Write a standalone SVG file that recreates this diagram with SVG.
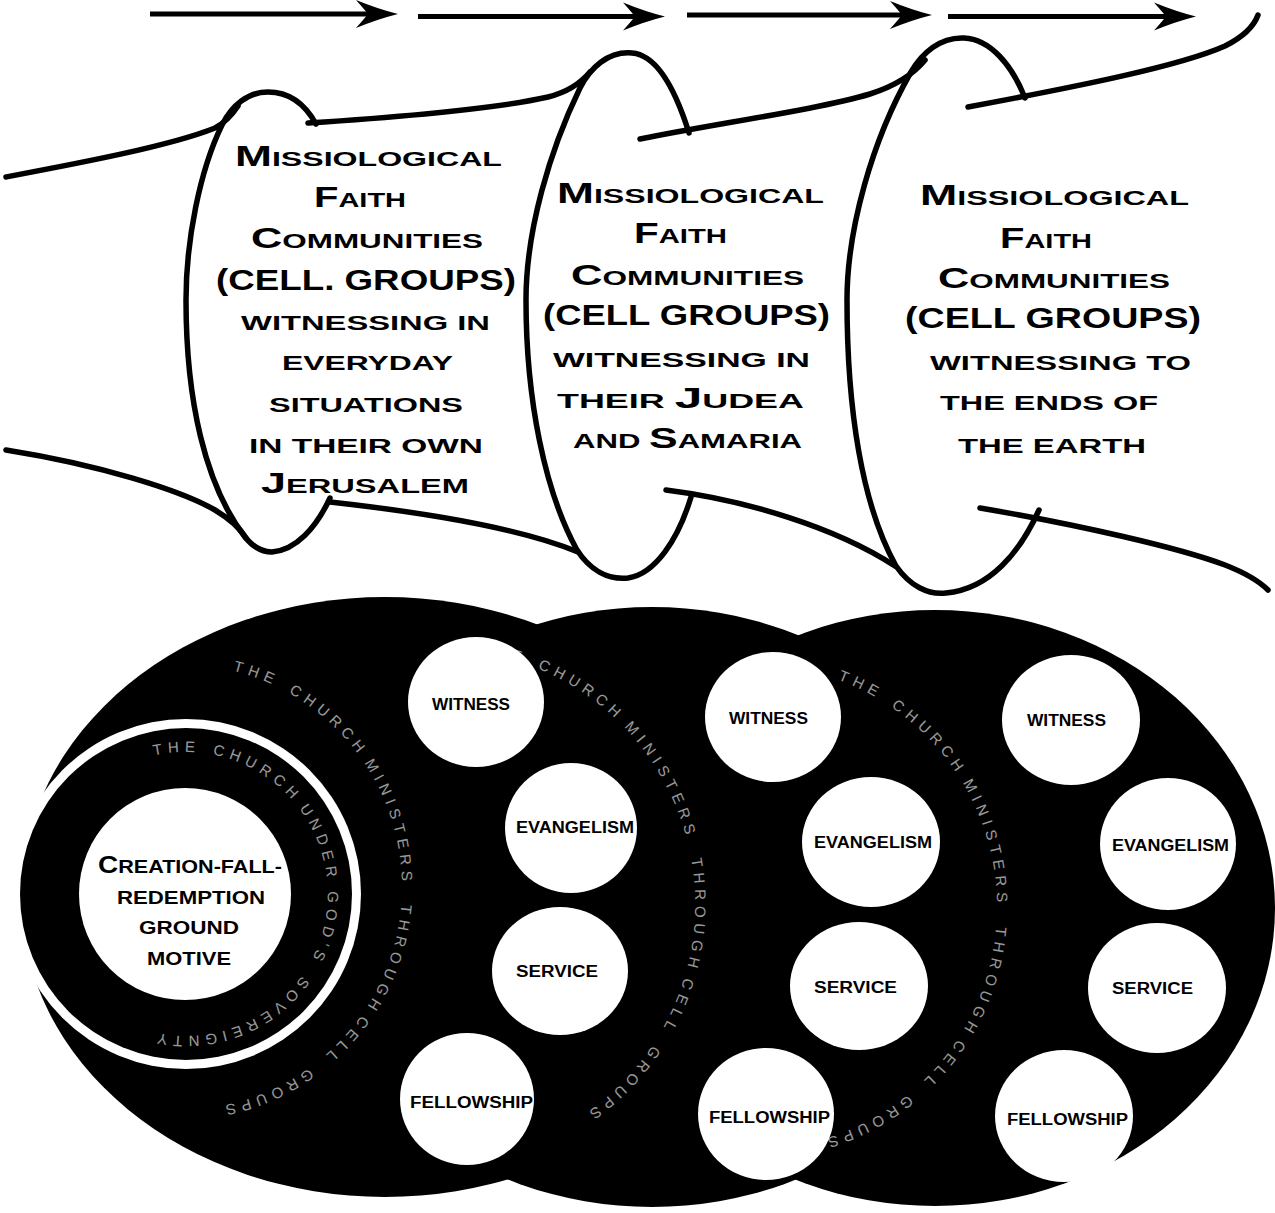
<svg xmlns="http://www.w3.org/2000/svg" width="1275" height="1213" viewBox="0 0 1275 1213">
  <defs>
    <marker id="head" markerUnits="userSpaceOnUse" markerWidth="52" markerHeight="34" viewBox="-22 -17 52 34" refX="0" refY="0" orient="auto">
      <path d="M26,0 Q6,-5 -16,-14 Q-8,-5 -4,0 Q-8,5 -16,14 Q6,5 26,0 Z" fill="#000"/>
    </marker>
    <path id="arc-c1" d="M232.9,670.6 A223,223 0 0 1 140.3,1106.6"/>
    <path id="arc-inner" d="M154,755.6 A142,142 0 1 1 137.4,1027.5"/>
    <path id="arc-c2" d="M479.9,652.1 A255,255 0 0 1 527.2,1143.7"/>
    <path id="arc-c3" d="M837.8,679.6 A242,242 0 0 1 755,1149"/>
  </defs>
  <style>
    .band { fill: none; stroke: #000; stroke-width: 5.5; stroke-linecap: round; stroke-linejoin: round; }
    .arrow { fill: none; stroke: #000; stroke-width: 5; marker-end: url(#head); }
    .cap { font-family: "Liberation Sans", Arial, sans-serif; font-weight: bold; fill: #000; }
    .big { font-size: 29px; }
    .sm { font-size: 21px; }
    .disc { fill: #000; }
    .hole { fill: #fff; }
    .lbl { font-family: "Liberation Sans", Arial, sans-serif; font-weight: bold; font-size: 16px; fill: #000; }
    .mot { font-family: "Liberation Sans", Arial, sans-serif; font-weight: bold; font-size: 18.5px; fill: #000; }
    .arcText { font-family: "Liberation Sans", Arial, sans-serif; font-size: 15px; letter-spacing: 5.5px; fill: #fff; opacity: 0.6; }
  </style>
  <rect width="1275" height="1213" fill="#fff"/>

  <!-- direction arrows along the top -->
  <g id="connectors">
    <path class="arrow" d="M150,14 L372,14"/>
    <path class="arrow" d="M418,16.5 L639,16.5"/>
    <path class="arrow" d="M687,15 L906,15"/>
    <path class="arrow" d="M948,16.5 L1170,16.5"/>
  </g>

  <!-- the spiral ribbon: bands between the coils -->
  <g id="ribbon">
    <path class="band" d="M6,177 C80,163 170,146 215,128 C226,122 232,115 238,106"/>
    <path class="band" d="M308,123 C400,117 500,108 548,97 C568,92 580,84 590,72"/>
    <path class="band" d="M640,139 C720,123 820,109 870,94 C895,86 912,76 925,60"/>
    <path class="band" d="M968,107 C1080,86 1180,66 1225,46 C1245,36 1254,26 1258,15"/>
    <path class="band" d="M6,450 C100,465 180,490 215,510 C230,519 240,528 246,538"/>
    <path class="band" d="M330,502 C420,512 520,528 578,552"/>
    <path class="band" d="M666,490 C745,500 835,527 895,566"/>
    <path class="band" d="M980,508 C1080,525 1180,548 1225,565 C1248,574 1260,582 1268,590"/>
  </g>

  <g id="coil-jerusalem">
    <path class="band" d="M316,124 C305,104 290,92 268,92 C248,92 232,105 222,125 C200,170 186,240 186,300 C186,400 205,485 245,537 C253,547 262,552 272,552 C296,550 316,528 330,498"/>
    <text class="cap" x="235" y="166" textLength="267" lengthAdjust="spacingAndGlyphs"><tspan class="big">M</tspan><tspan class="sm">ISSIOLOGICAL</tspan></text>
    <text class="cap" x="314" y="207" textLength="92" lengthAdjust="spacingAndGlyphs"><tspan class="big">F</tspan><tspan class="sm">AITH</tspan></text>
    <text class="cap" x="251" y="248" textLength="232" lengthAdjust="spacingAndGlyphs"><tspan class="big">C</tspan><tspan class="sm">OMMUNITIES</tspan></text>
    <text class="cap big" x="216" y="290" textLength="300" lengthAdjust="spacingAndGlyphs">(CELL. GROUPS)</text>
    <text class="cap sm" x="241" y="330" textLength="249" lengthAdjust="spacingAndGlyphs">WITNESSING IN</text>
    <text class="cap sm" x="282" y="370" textLength="171" lengthAdjust="spacingAndGlyphs">EVERYDAY</text>
    <text class="cap sm" x="269" y="412" textLength="194" lengthAdjust="spacingAndGlyphs">SITUATIONS</text>
    <text class="cap sm" x="249" y="453" textLength="234" lengthAdjust="spacingAndGlyphs">IN THEIR OWN</text>
    <text class="cap" x="261" y="493" textLength="208" lengthAdjust="spacingAndGlyphs"><tspan class="big">J</tspan><tspan class="sm">ERUSALEM</tspan></text>
  </g>

  <g id="coil-judea">
    <path class="band" d="M689,133 C678,98 660,55 632,53 C608,51 590,68 580,88 C550,150 526,230 526,300 C526,400 545,492 577,550 C590,570 608,580 628,578 C655,574 678,540 691,497"/>
    <text class="cap" x="557" y="203" textLength="267" lengthAdjust="spacingAndGlyphs"><tspan class="big">M</tspan><tspan class="sm">ISSIOLOGICAL</tspan></text>
    <text class="cap" x="634" y="243" textLength="93" lengthAdjust="spacingAndGlyphs"><tspan class="big">F</tspan><tspan class="sm">AITH</tspan></text>
    <text class="cap" x="571" y="285" textLength="233" lengthAdjust="spacingAndGlyphs"><tspan class="big">C</tspan><tspan class="sm">OMMUNITIES</tspan></text>
    <text class="cap big" x="543" y="325" textLength="287" lengthAdjust="spacingAndGlyphs">(CELL GROUPS)</text>
    <text class="cap sm" x="553" y="367" textLength="257" lengthAdjust="spacingAndGlyphs">WITNESSING IN</text>
    <text class="cap" x="557" y="408" textLength="247" lengthAdjust="spacingAndGlyphs"><tspan class="sm">THEIR </tspan><tspan class="big">J</tspan><tspan class="sm">UDEA</tspan></text>
    <text class="cap" x="573" y="448" textLength="229" lengthAdjust="spacingAndGlyphs"><tspan class="sm">AND </tspan><tspan class="big">S</tspan><tspan class="sm">AMARIA</tspan></text>
  </g>

  <g id="coil-earth">
    <path class="band" d="M1025,98 C1012,65 990,39 964,38 C940,37 922,53 911,72 C872,140 847,230 847,300 C847,410 862,505 896,566 C910,586 928,595 946,593 C990,589 1020,552 1039,510"/>
    <text class="cap" x="920" y="205" textLength="269" lengthAdjust="spacingAndGlyphs"><tspan class="big">M</tspan><tspan class="sm">ISSIOLOGICAL</tspan></text>
    <text class="cap" x="1000" y="248" textLength="92" lengthAdjust="spacingAndGlyphs"><tspan class="big">F</tspan><tspan class="sm">AITH</tspan></text>
    <text class="cap" x="938" y="288" textLength="232" lengthAdjust="spacingAndGlyphs"><tspan class="big">C</tspan><tspan class="sm">OMMUNITIES</tspan></text>
    <text class="cap big" x="905" y="328" textLength="296" lengthAdjust="spacingAndGlyphs">(CELL GROUPS)</text>
    <text class="cap sm" x="930" y="370" textLength="261" lengthAdjust="spacingAndGlyphs">WITNESSING TO</text>
    <text class="cap sm" x="940" y="410" textLength="218" lengthAdjust="spacingAndGlyphs">THE ENDS OF</text>
    <text class="cap sm" x="958" y="453" textLength="188" lengthAdjust="spacingAndGlyphs">THE EARTH</text>
  </g>

  <!-- overlapping church discs, each with its ring of lettering -->
  <g id="church-discs">
    <ellipse class="disc" cx="385" cy="897" rx="364" ry="300"/>
    <ellipse class="disc" cx="652" cy="907" rx="345" ry="300"/>
    <ellipse class="disc" cx="935" cy="908" rx="340" ry="298"/>
    <text class="arcText"><textPath href="#arc-c1" startOffset="0">THE</textPath></text>
    <text class="arcText"><textPath href="#arc-c1" startOffset="60">CHU</textPath></text>
    <text class="arcText"><textPath href="#arc-c1" startOffset="109">RCH</textPath></text>
    <text class="arcText"><textPath href="#arc-c1" startOffset="164">MINISTERS</textPath></text>
    <text class="arcText"><textPath href="#arc-c1" startOffset="313">THROUGH</textPath></text>
    <text class="arcText"><textPath href="#arc-c1" startOffset="432">CELL</textPath></text>
    <text class="arcText"><textPath href="#arc-c1" startOffset="507">GROUPS</textPath></text>
    <text class="arcText"><textPath href="#arc-c2" startOffset="0">THE</textPath></text>
    <text class="arcText"><textPath href="#arc-c2" startOffset="60">CHURCH</textPath></text>
    <text class="arcText"><textPath href="#arc-c2" startOffset="165">MINISTERS</textPath></text>
    <text class="arcText"><textPath href="#arc-c2" startOffset="315">THROUGH</textPath></text>
    <text class="arcText"><textPath href="#arc-c2" startOffset="435">CELL</textPath></text>
    <text class="arcText"><textPath href="#arc-c2" startOffset="510">GROUPS</textPath></text>
    <text class="arcText"><textPath href="#arc-c3" startOffset="0">THE</textPath></text>
    <text class="arcText"><textPath href="#arc-c3" startOffset="60">CHURCH</textPath></text>
    <text class="arcText"><textPath href="#arc-c3" startOffset="165">MINISTERS</textPath></text>
    <text class="arcText"><textPath href="#arc-c3" startOffset="315">THROUGH</textPath></text>
    <text class="arcText"><textPath href="#arc-c3" startOffset="435">CELL</textPath></text>
    <text class="arcText"><textPath href="#arc-c3" startOffset="510">GROUPS</textPath></text>
  </g>

  <g id="ground-motive">
    <circle class="hole" cx="186" cy="894" r="175"/>
    <circle class="disc" cx="186" cy="894" r="166"/>
    <text class="arcText"><textPath href="#arc-inner" startOffset="0">THE</textPath></text>
    <text class="arcText"><textPath href="#arc-inner" startOffset="59">CHURCH</textPath></text>
    <text class="arcText"><textPath href="#arc-inner" startOffset="163">UNDER</textPath></text>
    <text class="arcText"><textPath href="#arc-inner" startOffset="252">GOD'S</textPath></text>
    <text class="arcText"><textPath href="#arc-inner" startOffset="342">SOVEREIGNTY</textPath></text>
    <circle class="hole" cx="185" cy="894" r="106"/>
    <text class="mot" x="98" y="873" textLength="184" lengthAdjust="spacingAndGlyphs"><tspan font-size="24">C</tspan>REATION-FALL-</text>
    <text class="mot" x="117" y="904" textLength="148" lengthAdjust="spacingAndGlyphs">REDEMPTION</text>
    <text class="mot" x="139" y="934" textLength="100" lengthAdjust="spacingAndGlyphs">GROUND</text>
    <text class="mot" x="147" y="965" textLength="84" lengthAdjust="spacingAndGlyphs">MOTIVE</text>
  </g>

  <g id="ministries-1">
    <ellipse class="hole" cx="476" cy="702" rx="68" ry="65"/>
    <ellipse class="hole" cx="571" cy="828" rx="66" ry="65"/>
    <ellipse class="hole" cx="560" cy="971" rx="68" ry="64"/>
    <ellipse class="hole" cx="467" cy="1099" rx="67" ry="66"/>
    <text class="lbl" x="432" y="710" textLength="78" lengthAdjust="spacingAndGlyphs">WITNESS</text>
    <text class="lbl" x="516" y="833" textLength="118" lengthAdjust="spacingAndGlyphs">EVANGELISM</text>
    <text class="lbl" x="516" y="977" textLength="82" lengthAdjust="spacingAndGlyphs">SERVICE</text>
    <text class="lbl" x="410" y="1108" textLength="123" lengthAdjust="spacingAndGlyphs">FELLOWSHIP</text>
  </g>

  <g id="ministries-2">
    <ellipse class="hole" cx="773" cy="717" rx="68" ry="65"/>
    <ellipse class="hole" cx="871" cy="842" rx="69" ry="65"/>
    <ellipse class="hole" cx="859" cy="986" rx="69" ry="64"/>
    <ellipse class="hole" cx="766" cy="1114" rx="68" ry="66"/>
    <text class="lbl" x="729" y="724" textLength="79" lengthAdjust="spacingAndGlyphs">WITNESS</text>
    <text class="lbl" x="814" y="848" textLength="118" lengthAdjust="spacingAndGlyphs">EVANGELISM</text>
    <text class="lbl" x="814" y="993" textLength="83" lengthAdjust="spacingAndGlyphs">SERVICE</text>
    <text class="lbl" x="709" y="1123" textLength="121" lengthAdjust="spacingAndGlyphs">FELLOWSHIP</text>
  </g>

  <g id="ministries-3">
    <ellipse class="hole" cx="1071" cy="720" rx="69" ry="65"/>
    <ellipse class="hole" cx="1168" cy="844" rx="68" ry="66"/>
    <ellipse class="hole" cx="1157" cy="988" rx="69" ry="65"/>
    <ellipse class="hole" cx="1064" cy="1116" rx="69" ry="66"/>
    <text class="lbl" x="1027" y="726" textLength="79" lengthAdjust="spacingAndGlyphs">WITNESS</text>
    <text class="lbl" x="1112" y="851" textLength="117" lengthAdjust="spacingAndGlyphs">EVANGELISM</text>
    <text class="lbl" x="1112" y="994" textLength="81" lengthAdjust="spacingAndGlyphs">SERVICE</text>
    <text class="lbl" x="1007" y="1125" textLength="121" lengthAdjust="spacingAndGlyphs">FELLOWSHIP</text>
  </g>
</svg>
